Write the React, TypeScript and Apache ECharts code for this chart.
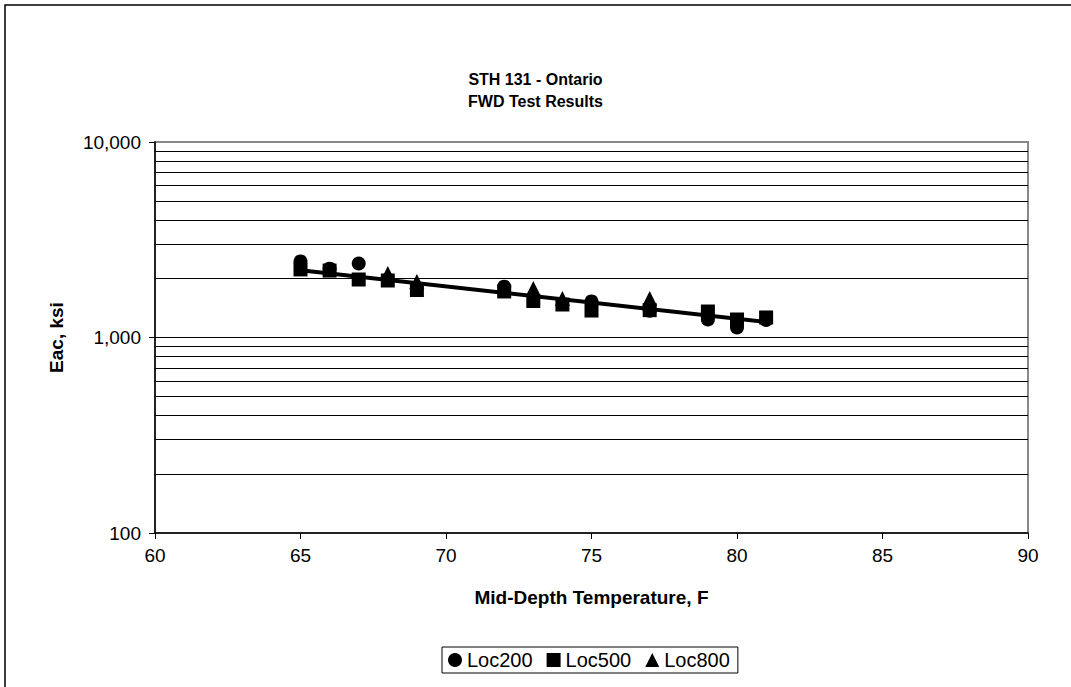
import React, { useEffect, useRef } from "react";
import * as echarts from "echarts";

const TITLE_LINES = ["STH 131 - Ontario", "FWD Test Results"];
const X_TITLE = "Mid-Depth Temperature, F";
const Y_TITLE = "Eac, ksi";

const LOC200: [number, number][] = [
  [65, 2450], [66, 2250], [67, 2390], [72, 1820], [75, 1530],
  [77, 1370], [79, 1236], [80, 1125], [81, 1230],
];
const LOC500: [number, number][] = [
  [65, 2230], [66, 2200], [67, 1980], [68, 1957], [69, 1750],
  [72, 1720], [73, 1537], [74, 1475], [75, 1374], [77, 1380],
  [79, 1358], [80, 1236], [81, 1266],
];
const LOC800: [number, number][] = [
  [68, 2125], [69, 1935], [73, 1780], [74, 1582], [77, 1582],
];
const TREND: [number, number][] = [
  [65, 2210], [81, 1200],
];
const GRID_VALUES = [200, 300, 400, 500, 600, 700, 800, 900, 1000, 2000, 3000, 4000, 5000, 6000, 7000, 8000, 9000];

const FONT = "'Liberation Sans', Arial, sans-serif";

export default function App() {
  const ref = useRef<HTMLDivElement>(null);
  useEffect(() => {
    if (!ref.current) return;
    const chart = echarts.init(ref.current, undefined, { renderer: "svg" });
    chart.setOption({
      animation: false,
      backgroundColor: "#fff",
      textStyle: { fontFamily: FONT },
      title: {
        text: TITLE_LINES.join("\n"),
        left: "center",
        top: 63,
        textStyle: { fontSize: 16, fontWeight: "bold", color: "#000", lineHeight: 22, fontFamily: FONT },
      },
      graphic: [
        {
          type: "rect",
          shape: { x: 5, y: 5, width: 1090, height: 710 },
          style: { fill: "none", stroke: "#000", lineWidth: 1.5 },
          silent: true,
        },
      ],
      grid: {
        left: 155,
        right: 1071 - 1028,
        top: 142,
        bottom: 687 - 533,
        show: true,
        borderColor: "#888",
        borderWidth: 2,
        backgroundColor: "transparent",
      },
      legend: {
        left: 442,
        top: 647,
        orient: "horizontal",
        itemWidth: 14,
        itemHeight: 14,
        itemGap: 14,
        padding: [3, 8, 3, 6],
        borderColor: "#000",
        borderWidth: 1,
        textStyle: { fontSize: 20, color: "#000", fontFamily: FONT },
        data: [
          { name: "Loc200", icon: "circle" },
          { name: "Loc500", icon: "rect" },
          { name: "Loc800", icon: "triangle" },
        ],
      },
      xAxis: {
        type: "value",
        min: 60,
        max: 90,
        interval: 5,
        name: X_TITLE,
        nameLocation: "middle",
        nameGap: 55,
        nameMoveOverlap: false,
        nameTextStyle: { fontSize: 19, fontWeight: "bold", color: "#000", fontFamily: FONT },
        axisLine: { show: true, lineStyle: { color: "#000", width: 1.5 } },
        axisTick: { show: true, inside: false, length: 6, lineStyle: { color: "#000" } },
        axisLabel: { fontSize: 19, color: "#000", margin: 13, fontFamily: FONT },
        splitLine: { show: false },
      },
      yAxis: {
        type: "log",
        logBase: 10,
        min: 100,
        max: 10000,
        name: Y_TITLE,
        nameLocation: "middle",
        nameGap: 89,
        nameRotate: 90,
        nameMoveOverlap: false,
        nameTextStyle: { fontSize: 19, fontWeight: "bold", color: "#000", fontFamily: FONT },
        axisLine: { show: true, lineStyle: { color: "#000", width: 1.5 } },
        axisTick: { show: true, inside: false, length: 6, lineStyle: { color: "#000" } },
        axisLabel: {
          fontSize: 19,
          color: "#000",
          margin: 14,
          fontFamily: FONT,
          formatter: (v: number) => Math.round(v).toLocaleString("en-US"),
        },
        splitLine: { show: false },
      },
      series: [
        {
          name: "gridlines",
          type: "scatter",
          data: [],
          silent: true,
          z: 1,
          markLine: {
            silent: true,
            symbol: ["none", "none"],
            label: { show: false },
            lineStyle: { color: "#000", width: 1, type: "solid" },
            emphasis: { disabled: true },
            data: GRID_VALUES.map((v) => ({ yAxis: v })),
          },
        },
        {
          name: "Loc200",
          type: "scatter",
          symbol: "circle",
          symbolSize: 14,
          itemStyle: { color: "#000", opacity: 1 },
          data: LOC200,
          z: 3,
        },
        {
          name: "Loc500",
          type: "scatter",
          symbol: "rect",
          symbolSize: 14,
          itemStyle: { color: "#000", opacity: 1 },
          data: LOC500,
          z: 4,
        },
        {
          name: "Loc800",
          type: "scatter",
          symbol: "triangle",
          symbolSize: 15,
          itemStyle: { color: "#000", opacity: 1 },
          data: LOC800,
          z: 5,
        },
        {
          name: "trend",
          type: "line",
          data: TREND,
          symbol: "none",
          lineStyle: { color: "#000", width: 4 },
          z: 6,
          silent: true,
        },
      ],
    });
    return () => chart.dispose();
  }, []);
  return (
    <div
      ref={ref}
      style={{ position: "fixed", left: 0, top: 0, width: 1071, height: 687 }}
    />
  );
}
